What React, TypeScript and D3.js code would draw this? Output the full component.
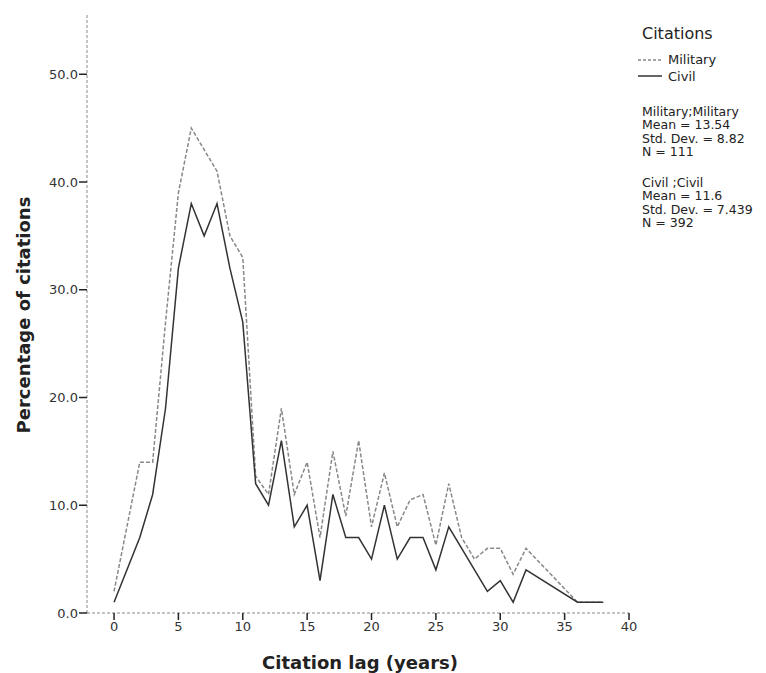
import { useRef, useEffect } from "react";
import * as d3 from "d3";

// citation lag (years) and percentage of citations
const militaryLag = [0, 2, 3, 4, 5, 6, 8, 9, 10, 11, 12, 13, 14, 15, 16, 17, 18, 19, 20, 21, 22, 23, 24, 25, 26, 27, 28, 29, 30, 31, 32, 36, 37, 38];
const militaryPct = [2, 14, 14, 27, 39, 45, 41, 35, 33, 12.7, 11, 19, 11, 14, 7, 15, 9, 16, 8, 13, 8, 10.5, 11, 6.3, 12, 7, 5, 6, 6, 3.6, 6, 1, 1, 1];

const civilLag = [0, 2, 3, 4, 5, 6, 7, 8, 9, 10, 11, 12, 13, 14, 15, 16, 17, 18, 19, 20, 21, 22, 23, 24, 25, 26, 29, 30, 31, 32, 36, 37, 38];
const civilPct = [1, 7, 11, 19, 32, 38, 35, 38, 32, 27, 12, 10, 16, 8, 10, 3, 11, 7, 7, 5, 10, 5, 7, 7, 4, 8, 2, 3, 1, 4, 1, 1, 1];

const xTicks = [0, 5, 10, 15, 20, 25, 30, 35, 40];
const yTicks = [0, 10, 20, 30, 40, 50];

const militaryStats = ["Military;Military", "Mean = 13.54", "Std. Dev. = 8.82", "N = 111"];
const civilStats = ["Civil ;Civil", "Mean = 11.6", "Std. Dev. = 7.439", "N = 392"];

const FONT = "DejaVu Sans, sans-serif";

const App = () => {
  const svgRef = useRef<SVGSVGElement>(null);

  useEffect(() => {
    const width = 766;
    const height = 673;

    const svg = d3.select(svgRef.current).attr("width", width).attr("height", height);
    svg.selectAll("*").remove();

    const x = d3.scaleLinear().domain([-2.1, 40]).range([87, 629]);
    const y = d3.scaleLinear().domain([0, 55.5]).range([613, 15]);

    // dashed axis lines
    svg
      .append("line")
      .attr("x1", x(-2.1))
      .attr("x2", x(-2.1))
      .attr("y1", y(55.5))
      .attr("y2", y(0))
      .attr("stroke", "#888")
      .attr("stroke-dasharray", "3,2");
    svg
      .append("line")
      .attr("x1", x(-2.1))
      .attr("x2", x(40))
      .attr("y1", y(0))
      .attr("y2", y(0))
      .attr("stroke", "#888")
      .attr("stroke-dasharray", "3,2");

    // y ticks
    const yt = svg.append("g").selectAll("g").data(yTicks).join("g");
    yt.append("line")
      .attr("x1", x(-2.1) - 8)
      .attr("x2", x(-2.1))
      .attr("y1", (d) => y(d))
      .attr("y2", (d) => y(d))
      .attr("stroke", "#222")
      .attr("stroke-width", 1.5);
    yt.append("text")
      .attr("x", x(-2.1) - 9)
      .attr("y", (d) => y(d))
      .attr("dy", "0.36em")
      .attr("text-anchor", "end")
      .attr("font-family", FONT)
      .attr("font-size", 13)
      .attr("fill", "#333")
      .text((d) => d.toFixed(1));

    // x ticks
    const xt = svg.append("g").selectAll("g").data(xTicks).join("g");
    xt.append("line")
      .attr("x1", (d) => x(d))
      .attr("x2", (d) => x(d))
      .attr("y1", y(0))
      .attr("y2", y(0) + 7)
      .attr("stroke", "#222")
      .attr("stroke-width", 1.5);
    xt.append("text")
      .attr("x", (d) => x(d))
      .attr("y", y(0) + 18)
      .attr("text-anchor", "middle")
      .attr("font-family", FONT)
      .attr("font-size", 13)
      .attr("fill", "#333")
      .text((d) => d);

    // axis titles
    svg
      .append("text")
      .attr("x", 360)
      .attr("y", 669)
      .attr("text-anchor", "middle")
      .attr("font-family", FONT)
      .attr("font-weight", "bold")
      .attr("font-size", 18)
      .attr("fill", "#222")
      .text("Citation lag (years)");
    svg
      .append("text")
      .attr("transform", "translate(30,315) rotate(-90)")
      .attr("text-anchor", "middle")
      .attr("font-family", FONT)
      .attr("font-weight", "bold")
      .attr("font-size", 18)
      .attr("fill", "#222")
      .text("Percentage of citations");

    // series
    const line = d3
      .line<[number, number]>()
      .x((d) => x(d[0]))
      .y((d) => y(d[1]));

    const military = militaryLag.map((l, i) => [l, militaryPct[i]] as [number, number]);
    const civil = civilLag.map((l, i) => [l, civilPct[i]] as [number, number]);

    svg
      .append("path")
      .datum(military)
      .attr("d", line)
      .attr("fill", "none")
      .attr("stroke", "#888")
      .attr("stroke-width", 1.5)
      .attr("stroke-dasharray", "4,2");
    svg
      .append("path")
      .datum(civil)
      .attr("d", line)
      .attr("fill", "none")
      .attr("stroke", "#333")
      .attr("stroke-width", 1.5);

    // legend
    const lg = svg.append("g").attr("font-family", FONT).attr("fill", "#222");
    lg.append("text").attr("x", 642).attr("y", 39).attr("font-size", 16).text("Citations");
    lg.append("line")
      .attr("x1", 638)
      .attr("x2", 662)
      .attr("y1", 60)
      .attr("y2", 60)
      .attr("stroke", "#888")
      .attr("stroke-width", 1.5)
      .attr("stroke-dasharray", "3,2");
    lg.append("text").attr("x", 668).attr("y", 64).attr("font-size", 13).text("Military");
    lg.append("line")
      .attr("x1", 638)
      .attr("x2", 662)
      .attr("y1", 76)
      .attr("y2", 76)
      .attr("stroke", "#333")
      .attr("stroke-width", 1.5);
    lg.append("text").attr("x", 668).attr("y", 81).attr("font-size", 13).text("Civil");

    lg.selectAll(".ms")
      .data(militaryStats)
      .join("text")
      .attr("class", "ms")
      .attr("x", 642)
      .attr("y", (d, i) => 116 + i * 13.4)
      .attr("font-size", 12.5)
      .text((d) => d);
    lg.selectAll(".cs")
      .data(civilStats)
      .join("text")
      .attr("class", "cs")
      .attr("x", 642)
      .attr("y", (d, i) => 187 + i * 13.4)
      .attr("font-size", 12.5)
      .text((d) => d);
  }, []);

  return <svg ref={svgRef} style={{ position: "absolute", left: 0, top: 0 }} />;
};

export default App;
